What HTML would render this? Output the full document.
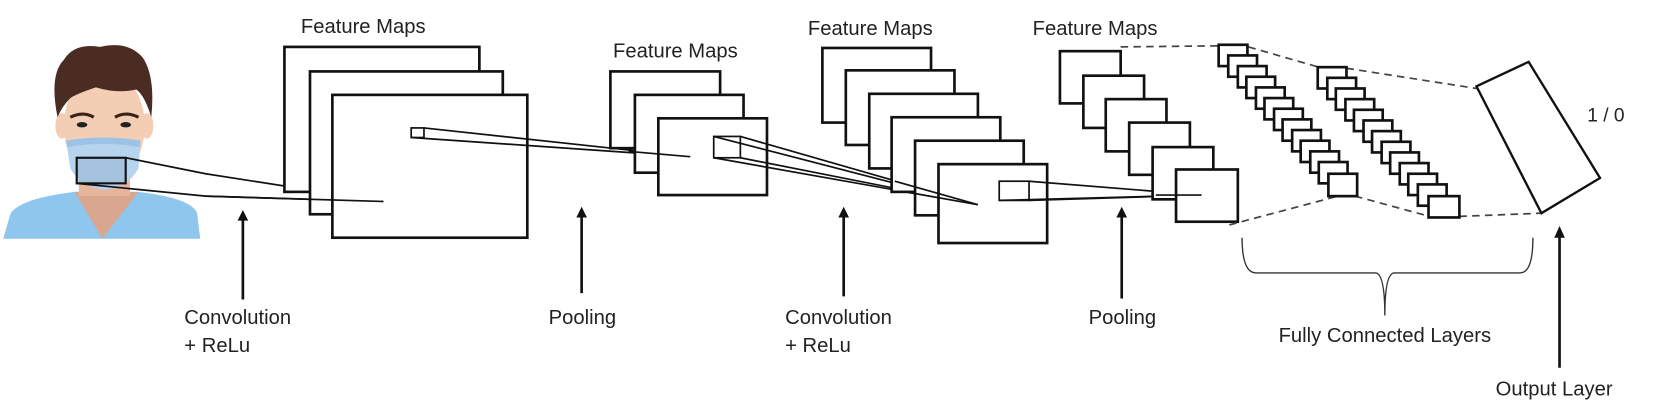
<!DOCTYPE html>
<html><head><meta charset="utf-8"><style>
html,body{margin:0;padding:0;background:#fff;}
svg{display:block;}
text{font-family:"Liberation Sans","DejaVu Sans",sans-serif;fill:#222;}
</style></head><body>
<svg width="1665" height="404" viewBox="0 0 1563 379" preserveAspectRatio="none" xmlns="http://www.w3.org/2000/svg">
<rect width="1563" height="379" fill="#fff"/>
<!-- face -->
<path d="M3 224 L10 200 Q20 186 70 180 L130 180 Q180 186 185 200 L188 224 Z" fill="#8ec6ee"/>
<path d="M70 180 L96 224 L130 180 Z" fill="#d9a690"/>
<rect x="74" y="160" width="48" height="24" fill="#e7b59c"/>
<ellipse cx="98" cy="118" rx="38" ry="52" fill="#f3cdb4"/>
<ellipse cx="58" cy="118" rx="6" ry="12" fill="#f3cdb4"/>
<ellipse cx="138" cy="118" rx="6" ry="12" fill="#f3cdb4"/>
<path d="M54 110 Q46 70 60 56 Q70 40 94 44 Q120 38 134 54 Q146 72 142 110 Q136 90 128 84 Q110 88 90 82 Q72 88 66 92 Q58 100 54 110 Z" fill="#4a2c22"/>
<path d="M66 110 Q78 104 88 110" stroke="#3a2218" stroke-width="3" fill="none"/>
<path d="M108 110 Q118 104 130 110" stroke="#3a2218" stroke-width="3" fill="none"/>
<ellipse cx="77" cy="117" rx="5" ry="2.5" fill="#222"/>
<ellipse cx="118" cy="117" rx="5" ry="2.5" fill="#222"/>
<path d="M62 132 Q98 126 132 132 L130 158 Q120 176 98 178 Q76 176 66 158 Z" fill="#b7d4ee"/>
<path d="M62 132 Q98 126 132 132 L131 138 Q98 132 63 138 Z" fill="#9cc2e6"/>
<rect x="72" y="148" width="46" height="24" fill="#9ab8d6" fill-opacity="0.6" stroke="#111" stroke-width="2"/>
<!-- conv lines -->
<g stroke="#111" stroke-width="1.6" fill="none">
<polyline points="118,148 193,163 360,189"/>
<polyline points="72,172 193,184 360,189"/>
</g>
<!-- group 1 -->
<g fill="#fff" stroke="#111" stroke-width="2.5">
<rect x="267" y="44" width="183" height="136"/>
<rect x="291" y="67" width="181" height="134"/>
<rect x="312" y="89" width="183" height="134"/>
</g>
<g stroke="#111" stroke-width="1.6" fill="none">
<polyline points="360,189 193,184"/>
<rect x="386" y="120" width="12" height="9" fill="#fff"/>
<line x1="398" y1="120" x2="648" y2="147"/>
<line x1="386" y1="129" x2="648" y2="147"/>
</g>
<text x="341" y="31" font-size="19" text-anchor="middle">Feature Maps</text>
<!-- group 2 -->
<g fill="#fff" stroke="#111" stroke-width="2.5">
<rect x="573" y="67" width="103" height="72"/>
<rect x="596" y="89" width="102" height="73"/>
<rect x="618" y="111" width="102" height="72"/>
</g>
<g stroke="#111" stroke-width="1.6" fill="none">
<line x1="590" y1="142" x2="648" y2="147"/>
<rect x="670" y="128" width="25" height="20" fill="#fff"/>
<line x1="670" y1="128" x2="918" y2="192"/>
<line x1="695" y1="128" x2="918" y2="192"/>
<line x1="695" y1="148" x2="918" y2="192"/>
<line x1="670" y1="148" x2="918" y2="192"/>
</g>
<text x="634" y="54" font-size="19" text-anchor="middle">Feature Maps</text>
<!-- group 3 -->
<g fill="#fff" stroke="#111" stroke-width="2.5">
<rect x="772" y="45" width="102" height="70"/>
<rect x="794" y="66" width="102" height="70"/>
<rect x="816" y="88" width="102" height="70"/>
<rect x="837" y="110" width="102" height="70"/>
<rect x="859" y="132" width="102" height="70"/>
<rect x="881" y="154" width="102" height="74"/>
</g>
<g stroke="#111" stroke-width="1.6" fill="none">
<line x1="840" y1="170" x2="918" y2="192"/>
<line x1="850" y1="180" x2="918" y2="192"/>
<rect x="938" y="170" width="28" height="18" fill="#fff"/>
<line x1="966" y1="170" x2="1128" y2="183"/>
<line x1="966" y1="188" x2="1128" y2="183"/>
<line x1="938" y1="188" x2="1128" y2="183"/>
</g>
<text x="817" y="33" font-size="19" text-anchor="middle">Feature Maps</text>
<!-- group 4 -->
<g fill="#fff" stroke="#111" stroke-width="2.5">
<rect x="995" y="48" width="57" height="49"/>
<rect x="1017" y="71" width="57" height="49"/>
<rect x="1038" y="93" width="57" height="49"/>
<rect x="1060" y="115" width="57" height="49"/>
<rect x="1082" y="138" width="57" height="49"/>
<rect x="1104" y="159" width="58" height="49"/>
</g>
<line x1="1085" y1="183" x2="1128" y2="183" stroke="#111" stroke-width="1.6"/>
<text x="1028" y="33" font-size="19" text-anchor="middle">Feature Maps</text>
<!-- dashed -->
<g stroke="#444" stroke-width="1.6" stroke-dasharray="7,5" fill="none">
<line x1="1052" y1="44" x2="1144" y2="43"/>
<line x1="1172" y1="44" x2="1238" y2="63"/>
<line x1="1264" y1="64" x2="1386" y2="83"/>
<line x1="1154" y1="211" x2="1256" y2="184"/>
<line x1="1272" y1="184" x2="1342" y2="203"/>
<line x1="1370" y1="203" x2="1447" y2="200"/>
</g>
<!-- FC1 -->
<g fill="#fff" stroke="#111" stroke-width="2.5">
<rect x="1144" y="42" width="27" height="20"/>
<rect x="1153" y="52" width="27" height="20"/>
<rect x="1162" y="62" width="27" height="20"/>
<rect x="1170" y="72" width="27" height="20"/>
<rect x="1179" y="82" width="27" height="20"/>
<rect x="1187" y="92" width="27" height="20"/>
<rect x="1196" y="102" width="27" height="20"/>
<rect x="1204" y="112" width="27" height="20"/>
<rect x="1213" y="122" width="27" height="20"/>
<rect x="1221" y="132" width="27" height="20"/>
<rect x="1230" y="142" width="27" height="20"/>
<rect x="1238" y="152" width="27" height="20"/>
<rect x="1247" y="163" width="27" height="21"/>
</g>
<!-- FC2 -->
<g fill="#fff" stroke="#111" stroke-width="2.5">
<rect x="1237" y="63" width="27" height="20"/>
<rect x="1246" y="73" width="27" height="20"/>
<rect x="1254" y="83" width="27" height="20"/>
<rect x="1263" y="93" width="27" height="20"/>
<rect x="1271" y="103" width="27" height="20"/>
<rect x="1280" y="113" width="27" height="20"/>
<rect x="1288" y="123" width="27" height="20"/>
<rect x="1297" y="133" width="27" height="20"/>
<rect x="1305" y="143" width="27" height="20"/>
<rect x="1314" y="153" width="27" height="20"/>
<rect x="1322" y="163" width="27" height="20"/>
<rect x="1331" y="173" width="27" height="20"/>
<rect x="1341" y="184" width="29" height="20"/>
</g>
<!-- output -->
<polygon points="1386,81 1435,58 1502,167 1447,200" fill="#fff" stroke="#111" stroke-width="2.2"/>
<text x="1490" y="114" font-size="18">1 / 0</text>
<!-- brace -->
<path d="M1166 223 Q1166 256 1179 256 L1291 256 Q1300 256 1300 296 Q1300 256 1309 256 L1427 256 Q1439 256 1439 223" stroke="#333" stroke-width="1.3" fill="none"/>
<text x="1300" y="321" font-size="19" text-anchor="middle">Fully Connected Layers</text>
<!-- arrows -->
<g stroke="#111" stroke-width="2.5">
<line x1="228" y1="281" x2="228" y2="205"/>
<line x1="546" y1="275" x2="546" y2="202"/>
<line x1="792" y1="278" x2="792" y2="202"/>
<line x1="1053" y1="280" x2="1053" y2="202"/>
<line x1="1464" y1="345" x2="1464" y2="220"/>
</g>
<g fill="#111">
<polygon points="223,207 228,197 233,207"/>
<polygon points="541,204 546,194 551,204"/>
<polygon points="787,204 792,194 797,204"/>
<polygon points="1048,204 1053,194 1058,204"/>
<polygon points="1459,223 1464,212 1469,223"/>
</g>
<text x="173" y="304" font-size="19">Convolution</text>
<text x="173" y="330" font-size="19">+ ReLu</text>
<text x="515" y="304" font-size="19">Pooling</text>
<text x="737" y="304" font-size="19">Convolution</text>
<text x="737" y="330" font-size="19">+ ReLu</text>
<text x="1022" y="304" font-size="19">Pooling</text>
<text x="1404" y="371" font-size="19">Output Layer</text>
</svg>
</body></html>
